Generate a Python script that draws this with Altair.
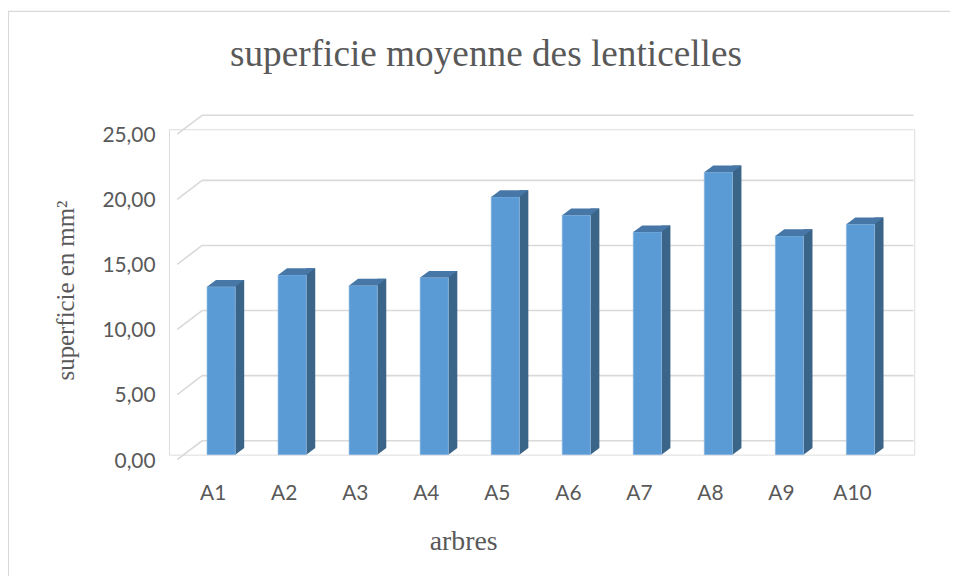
import altair as alt
import pandas as pd

# ---- data ----
arbres = ["A1", "A2", "A3", "A4", "A5", "A6", "A7", "A8", "A9", "A10"]
superficie = [12.9, 13.8, 13.0, 13.6, 19.8, 18.4, 17.1, 21.7, 16.8, 17.7]
graduations = [0, 5, 10, 15, 20, 25]

df = pd.DataFrame({"arbre": arbres, "superficie": superficie, "base": [0] * len(arbres)})
grid_df = pd.DataFrame({"v": graduations})
frame_df = pd.DataFrame({"k": [0]})

# ---- style ----
W, H = 750, 327.5
FRONT = "#5B9BD5"
SIDE = "#3A6488"
TOPC = "#4677A7"
GRID = "#D9D9D9"
TEXT = "#595959"
SANS = "Lato"
SERIF = "Liberation Serif"
DX, DY = 9, 6.7          # depth of the bars
HALF = 14.2              # half width of a bar's front face

xscale = alt.Scale(domain=arbres, range=[38.3, 710.1], paddingInner=0.6027, paddingOuter=0)
yscale = alt.Scale(domain=[0, 25], nice=False, zero=True)

x_axis = alt.Axis(
    domain=False, ticks=False, tickSize=0, grid=False, labelAngle=0,
    labelFont=SANS, labelFontSize=21, labelColor=TEXT,
    labelBaseline="middle", labelPadding=39, labelOffset=-8,
    title="arbres", titleFont=SERIF, titleFontSize=28, titleFontWeight="normal",
    titleColor=TEXT, titleX=296, titleY=95, titleBaseline="alphabetic", titleAlign="center",
)
y_axis = alt.Axis(
    values=graduations, domain=False, ticks=False, tickSize=0, grid=False,
    labelFont=SANS, labelFontSize=21, labelColor=TEXT,
    labelBaseline="middle", labelAlign="right", labelPadding=14, labelOffset=6.5,
    labelExpr="replace(format(datum.value, '.2f'), '.', ',')",
    title="superficie en mm²", titleFont=SERIF, titleFontSize=25, titleFontWeight="normal",
    titleColor=TEXT, titleX=-104, titleY=161.8, titleAngle=-90,
    titleBaseline="middle", titleAlign="center",
)

def X():
    return alt.X("arbre:N", sort=arbres, scale=xscale, axis=x_axis)

def Y(field):
    return alt.Y(f"{field}:Q", scale=yscale, axis=y_axis)

base = alt.Chart(df)

# back wall gridlines
grid = alt.Chart(grid_df).mark_rule(color=GRID, strokeWidth=1.6, yOffset=-14).encode(
    y=Y("v"), x=alt.value(33.3), x2=alt.value(749.3)
)
# side-wall diagonal gridlines
diag = alt.Chart(grid_df).mark_rule(color=GRID, strokeWidth=1.6, yOffset=5, y2Offset=-14).encode(
    y=Y("v"), y2=alt.Y2("v"), x=alt.value(8.3), x2=alt.value(33.3)
)

# side face (rect part)
side = base.mark_bar(color=SIDE, width=DX, xOffset=HALF + DX / 2, yOffset=-DY, y2Offset=-DY).encode(
    x=X(), y=Y("superficie"), y2=alt.Y2("base")
)
# side face: lower triangle
side_tri = base.mark_point(
    shape=f"M {HALF} {-DY} L {HALF} 0 L {HALF + DX} {-DY} Z",
    size=4, filled=True, opacity=1, color=SIDE, strokeWidth=0,
).encode(x=X(), y=Y("base"))

# front face
front = base.mark_bar(color=FRONT, stroke="#8DB6DF", strokeWidth=0.6).encode(
    x=X(), y=Y("superficie")
)
# top face
top = base.mark_point(
    shape=f"M {-HALF} 0 L {HALF} 0 L {HALF + DX} {-DY} L {-HALF + DX} {-DY} Z",
    size=4, filled=True, opacity=1, color=TOPC, strokeWidth=0,
).encode(x=X(), y=Y("superficie"))

# chart frame
frame = alt.Chart(frame_df).mark_rect(fillOpacity=0, stroke=GRID, strokeWidth=1.2).encode(
    x=alt.value(-161.5), x2=alt.value(800), y=alt.value(-118.7), y2=alt.value(460)
)

chart = alt.layer(frame, grid, diag, side, side_tri, front, top).properties(
    width=W, height=H,
    autosize=alt.AutoSizeParams(type="none"),
    padding={"left": 162, "top": 120.2, "right": 36, "bottom": 120},
    title=alt.TitleParams(
        "superficie moyenne des lenticelles", font=SERIF, fontSize=37.5, fontWeight="normal",
        color=TEXT, anchor="middle", frame="group", dx=-56, baseline="alphabetic", dy=97.5,
    ),
).configure_view(stroke=None).configure(background="white")

chart.save("out.html", embed_options={"renderer": "svg", "actions": False})
